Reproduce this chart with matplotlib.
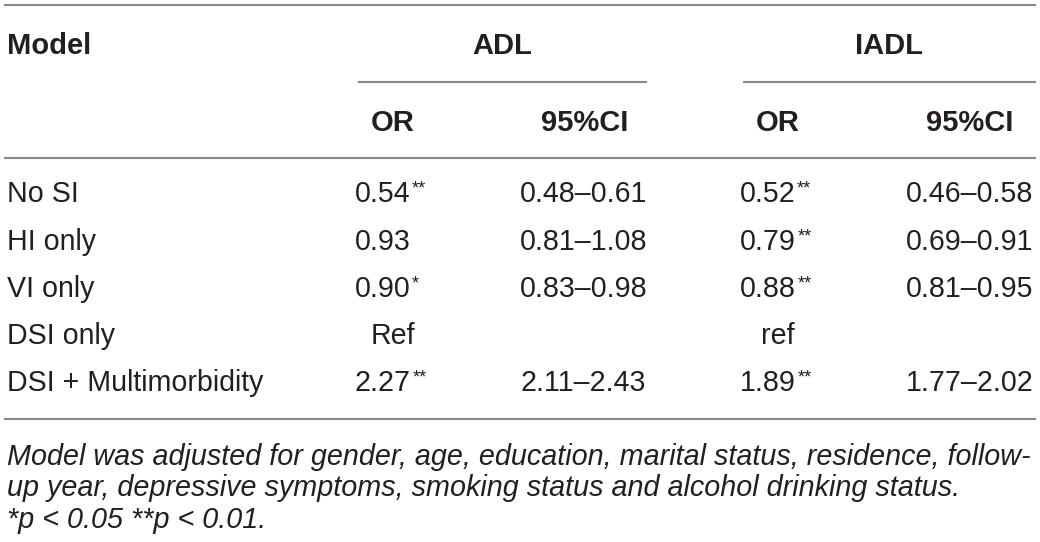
import matplotlib.pyplot as plt

models = ["No SI", "HI only", "VI only", "DSI only", "DSI + Multimorbidity"]
adl_or = ["0.54", "0.93", "0.90", "Ref", "2.27"]
adl_sig = ["**", "", "*", "", "**"]
adl_ci = ["0.48\u20130.61", "0.81\u20131.08", "0.83\u20130.98", "", "2.11\u20132.43"]
iadl_or = ["0.52", "0.79", "0.88", "ref", "1.89"]
iadl_sig = ["**", "**", "**", "", "**"]
iadl_ci = ["0.46\u20130.58", "0.69\u20130.91", "0.81\u20130.95", "", "1.77\u20132.02"]

note = ["Model was adjusted for gender, age, education, marital status, residence, follow-",
        "up year, depressive symptoms, smoking status and alcohol drinking status.",
        "*p < 0.05 **p < 0.01."]

ink = "#231f20"
rule = "#8a8a8a"
plt.rcParams['font.family'] = ['Liberation Sans', 'DejaVu Sans']

fig = plt.figure(figsize=(10.4, 5.42), dpi=100)
ax = fig.add_axes([0, 0, 1, 1])
ax.set_xlim(0, 1040)
ax.set_ylim(542, 0)
ax.axis("off")

# rules
ax.plot([5, 1035], [5, 5], color=rule, lw=1.5)
ax.plot([359, 646], [82, 82], color=rule, lw=1.5)
ax.plot([744, 1035], [82, 82], color=rule, lw=1.5)
ax.plot([5, 1035], [158, 158], color=rule, lw=1.5)
ax.plot([5, 1035], [419, 419], color=rule, lw=1.5)

# headers
hs = 21
ax.text(7, 46, "Model", fontsize=hs, fontweight="bold", color=ink, va="center")
ax.text(502, 46, "ADL", fontsize=hs, fontweight="bold", color=ink, va="center", ha="center")
ax.text(889, 46, "IADL", fontsize=hs, fontweight="bold", color=ink, va="center", ha="center")
for x, s in zip([393, 585, 778, 970], ["OR", "95%CI", "OR", "95%CI"]):
    ax.text(x, 123, s, fontsize=hs, fontweight="bold", color=ink, va="center", ha="center")


def or_cell(x_left, x_mid, y, val, sig):
    if val[0].isdigit():
        t = ax.text(x_left, y, val, fontsize=bs, color=ink, va="center")
        if sig:
            ax.annotate(sig, xy=(1, 1.0), xycoords=t, xytext=(1, 0),
                        textcoords="offset points", fontsize=13, color=ink,
                        va="top", ha="left")
    else:
        ax.text(x_mid, y, val, fontsize=bs, color=ink, va="center", ha="center")


# body
bs = 20.6
row_y = [194, 242, 289, 336, 383]
for i, y in enumerate(row_y):
    ax.text(7, y, models[i], fontsize=bs, color=ink, va="center")
    or_cell(355, 393, y, adl_or[i], adl_sig[i])
    ax.text(520, y, adl_ci[i], fontsize=bs, color=ink, va="center")
    or_cell(740, 778, y, iadl_or[i], iadl_sig[i])
    ax.text(906, y, iadl_ci[i], fontsize=bs, color=ink, va="center")

# footnote
for y, s in zip([457, 488, 520], note):
    ax.text(7, y, s, fontsize=20.7, style="italic", color=ink, va="center")

fig.savefig("out.png", dpi=100)
